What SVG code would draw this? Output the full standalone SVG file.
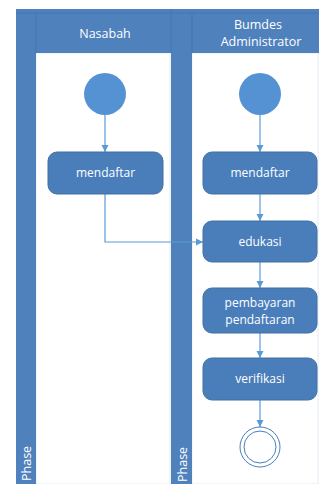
<svg xmlns="http://www.w3.org/2000/svg" width="320" height="484" viewBox="0 0 320 484">
<style>
.bar{fill:#4f81bd}
.hdr{fill:#4f81bd}
.body{fill:#ffffff;stroke:#e3ebf5;stroke-width:1}
.node rect{fill:#4a7ebb;stroke:#41709f;stroke-width:1}
.t{font-family:"Open Sans","Noto Sans","Liberation Sans",sans-serif;font-size:12px;fill:#ffffff;text-anchor:middle}
.h{font-family:"Open Sans","Noto Sans","Liberation Sans",sans-serif;font-size:12.5px;fill:#ffffff;text-anchor:middle}
.start{fill:#5592d4}
.conn{fill:none;stroke:#5b9bd5;stroke-width:1.2}
</style>
<defs>
<marker id="arr" markerWidth="8" markerHeight="8" refX="7" refY="4" orient="auto" markerUnits="userSpaceOnUse">
<path d="M0,0.5 L7,4 L0,7.5 Z" fill="#5b9bd5"/>
</marker>
</defs>
<rect width="320" height="484" fill="#ffffff"/>
<g id="lane-nasabah">
<rect class="body" x="36" y="53" width="134" height="431"/>
<rect class="bar" x="16" y="9" width="20" height="475"/>
<rect class="hdr" x="36" y="9" width="135" height="44"/>
<line x1="16" y1="13" x2="171" y2="13" stroke="#4576b0" stroke-width="1"/>
<line x1="36" y1="13" x2="36" y2="53" stroke="#4576b0" stroke-width="1"/>
<text class="h" x="105" y="38">Nasabah</text>
<text class="h" transform="translate(31,481) rotate(-90)" text-anchor="start" style="text-anchor:start">Phase</text>
</g>
<g id="lane-bumdes">
<rect class="body" x="192" y="53" width="126" height="431"/>
<rect class="bar" x="171" y="9" width="21" height="475"/>
<rect class="hdr" x="192" y="9" width="127" height="44"/>
<line x1="171" y1="13" x2="319" y2="13" stroke="#4576b0" stroke-width="1"/>
<line x1="171" y1="9" x2="171" y2="53" stroke="#4576b0" stroke-width="1"/>
<line x1="192" y1="13" x2="192" y2="53" stroke="#4576b0" stroke-width="1"/>
<text class="h" x="258" y="29">Bumdes</text>
<text class="h" x="261" y="46">Administrator</text>
<text class="h" transform="translate(187,482) rotate(-90)" style="text-anchor:start">Phase</text>
</g>
<g id="connectors">
<line class="conn" x1="105" y1="115" x2="105" y2="152" marker-end="url(#arr)"/>
<line class="conn" x1="260" y1="115" x2="260" y2="152" marker-end="url(#arr)"/>
<polyline class="conn" points="105,194 105,242 203,242" marker-end="url(#arr)"/>
<line class="conn" x1="260" y1="194" x2="260" y2="221" marker-end="url(#arr)"/>
<line class="conn" x1="260" y1="262" x2="260" y2="288" marker-end="url(#arr)"/>
<line class="conn" x1="260" y1="333" x2="260" y2="358" marker-end="url(#arr)"/>
<line class="conn" x1="260" y1="400" x2="260" y2="427" marker-end="url(#arr)"/>
</g>
<g id="start-nasabah"><circle class="start" cx="105" cy="94" r="21"/></g>
<g id="start-bumdes"><circle class="start" cx="260" cy="94" r="21"/></g>
<g id="mendaftar-nasabah" class="node"><rect x="48" y="152" width="115" height="42" rx="9"/><text class="t" x="105.5" y="177">mendaftar</text></g>
<g id="mendaftar-bumdes" class="node"><rect x="203" y="152" width="114" height="42" rx="9"/><text class="t" x="260" y="177">mendaftar</text></g>
<g id="edukasi" class="node"><rect x="203" y="221" width="114" height="41" rx="9"/><text class="t" x="260" y="246">edukasi</text></g>
<g id="pembayaran" class="node"><rect x="203" y="288" width="114" height="45" rx="9"/><text class="t" x="260" y="307">pembayaran</text><text class="t" x="260" y="324">pendaftaran</text></g>
<g id="verifikasi" class="node"><rect x="203" y="358" width="114" height="42" rx="9"/><text class="t" x="260" y="383">verifikasi</text></g>
<g id="end"><circle cx="260" cy="447" r="20" fill="#ffffff" stroke="#4a7ebb" stroke-width="1"/><circle cx="260" cy="447" r="16" fill="#ffffff" stroke="#4a7ebb" stroke-width="1"/></g>
</svg>
